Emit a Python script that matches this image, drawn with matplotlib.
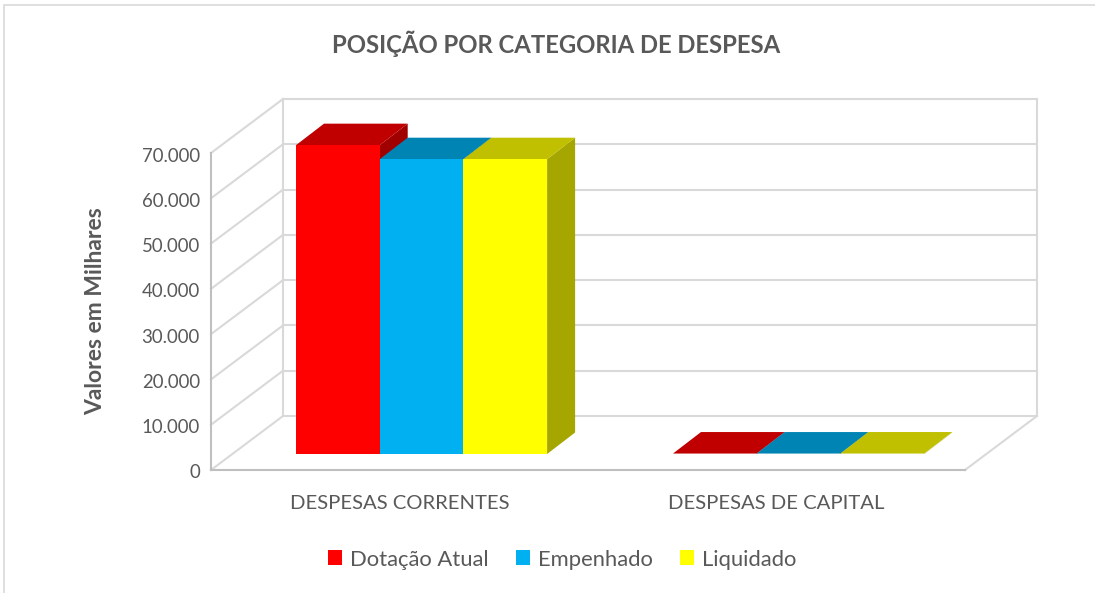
"""Posicao por categoria de despesa: pseudo-3D bar chart drawn on a flat axes."""
import matplotlib
matplotlib.use("Agg")
import matplotlib.pyplot as plt
from matplotlib.patches import Patch, Polygon, Rectangle
from matplotlib.transforms import ScaledTranslation

categories = ["DESPESAS CORRENTES", "DESPESAS DE CAPITAL"]
series_names = ["Dotação Atual", "Empenhado", "Liquidado"]
dotacao = [68200, 100]
empenhado = [65100, 100]
liquidado = [65100, 100]
yticks = [0, 10000, 20000, 30000, 40000, 50000, 60000, 70000]

front = ["#FF0000", "#00B0F0", "#FFFF00"]
top = ["#C00000", "#0084B4", "#C0C000"]
side = ["#A00000", "#006E96", "#A6A600"]
GRID = "#D9D9D9"
TEXT = "#595959"

W, H = 1095, 593
# front plane of the box in pixels
X0, X1, Y0, Y1 = 211, 965, 470, 153
UX = (X1 - X0) / 2          # pixels per category
UY = (Y0 - Y1) / 70000      # pixels per value unit
WALL_DX, WALL_DY = 72 / UX, 54 / UY
BAR_DX, BAR_DY = 28 / UX, 21.5 / UY
BAR_W = 83.7 / UX
BAR_LEFT = 85 / UX
FLOOR = 16 / UY

plt.rcParams["font.family"] = ["Lato", "DejaVu Sans"]
fig = plt.figure(figsize=(W / 100, H / 100), dpi=100)
# card border: open at the right and bottom edges of the picture
fig.add_artist(Rectangle((4 / W, -0.01), 1.01, 1 - 5.5 / H + 0.01, transform=fig.transFigure,
                         fill=False, ec=GRID, lw=1.2))
ax = fig.add_axes([X0 / W, 1 - Y0 / H, (X1 - X0) / W, (Y0 - Y1) / H])
ax.set_xlim(0, 2)
ax.set_ylim(0, 70000)
for s in ax.spines.values():
    s.set_visible(False)


def line(xs, ys, color=GRID, lw=1.5, z=1):
    ax.plot(xs, ys, color=color, lw=lw, clip_on=False, zorder=z, solid_capstyle="projecting")


# walls and gridlines
for v in yticks:
    line([0, WALL_DX], [v, v + WALL_DY])
    line([WALL_DX, 2 + WALL_DX], [v + WALL_DY, v + WALL_DY])
line([WALL_DX, WALL_DX], [WALL_DY, 70000 + WALL_DY])
line([2 + WALL_DX, 2 + WALL_DX], [WALL_DY, 70000 + WALL_DY])
line([2, 2 + WALL_DX], [0, WALL_DY])
line([0, 0], [0, 70000], color="#BFBFBF")
line([0, 2], [0, 0], color="#BFBFBF", z=2)

# bars, back to front so the neighbouring side faces are hidden
for i, vals in enumerate([dotacao, empenhado, liquidado]):
    for c, v in enumerate(vals):
        x = c + BAR_LEFT + i * BAR_W
        yb, yt = FLOOR, FLOOR + v
        ax.add_patch(Polygon([(x + BAR_W, yb), (x + BAR_W + BAR_DX, yb + BAR_DY),
                              (x + BAR_W + BAR_DX, yt + BAR_DY), (x + BAR_W, yt)],
                             fc=side[i], ec="none", clip_on=False, zorder=3 + i))
        ax.add_patch(Polygon([(x, yt), (x + BAR_DX, yt + BAR_DY),
                              (x + BAR_W + BAR_DX, yt + BAR_DY), (x + BAR_W, yt)],
                             fc=top[i], ec="none", clip_on=False, zorder=3 + i))
        ax.bar(x, v, BAR_W, bottom=yb, align="edge", color=front[i], clip_on=False, zorder=3 + i)

ax.set_yticks(yticks, [f"{v:,}".replace(",", ".") for v in yticks])
ax.set_xticks([0.5, 1.5], categories)
ax.tick_params(axis="y", length=0, pad=8, labelsize=13.4, labelcolor=TEXT)
ax.tick_params(axis="x", length=0, pad=18, labelsize=14.6, labelcolor=TEXT)
# the labels sit a little below their gridline in the original
nudge = ScaledTranslation(0, -1.5 / 100, fig.dpi_scale_trans)
for lab in ax.get_yticklabels():
    lab.set_transform(lab.get_transform() + nudge)
ax.set_ylabel("Valores em Milhares", fontsize=16.5, fontweight="bold", color=TEXT)
ax.yaxis.set_label_coords((106 - X0) / (X1 - X0), (Y0 - 311) / (Y0 - Y1))
fig.text(556 / W, 1 - 44 / H, "POSIÇÃO POR CATEGORIA DE DESPESA", ha="center", va="center",
         fontsize=17.2, fontweight="bold", color=TEXT)

handles = [Patch(fc=c, ec="none") for c in front]
fig.legend(handles, series_names, loc="center", bbox_to_anchor=(562 / W, 1 - 559.5 / H), ncol=3,
           frameon=False, fontsize=15.8, labelcolor=TEXT, handlelength=0.65, handleheight=0.65,
           handletextpad=0.35, columnspacing=1.25)

fig.savefig("out.png", dpi=100)
